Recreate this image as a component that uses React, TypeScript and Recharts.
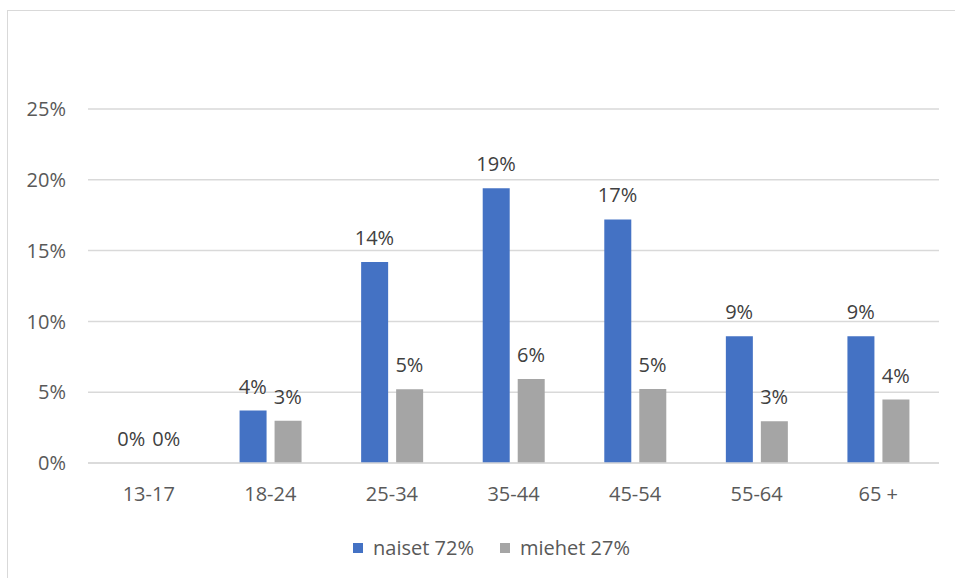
import React from "react";
import { ComposedChart, Bar, Line, XAxis, YAxis, CartesianGrid, Legend, LabelList } from "recharts";

// Age groups and the share of each gender in them (percent)
const ageGroups = ["13-17", "18-24", "25-34", "35-44", "45-54", "55-64", "65 +"];
const naiset = [0, 3.7, 14.2, 19.4, 17.2, 8.95, 8.95];
const miehet = [0, 2.99, 5.2, 5.94, 5.23, 2.95, 4.48];
const yTicks = [0, 5, 10, 15, 20, 25];

const seriesOrder = ["naiset", "miehet"];
const seriesNames: Record<string, string> = { naiset: "naiset 72%", miehet: "miehet 27%" };
const BLUE = "#4472C4";
const GREY = "#A5A5A5";
const FONT = "'Open Sans', 'Liberation Sans', sans-serif";
const FONT_SIZE = 20;
const BAR_SIZE = 27;
const BAR_GAP = 8;
// horizontal distance from a category centre to the centre of each bar in the pair
const HALF_STEP = (BAR_SIZE + BAR_GAP) / 2;

const data = ageGroups.map((g, i) => ({ group: g, naiset: naiset[i], miehet: miehet[i] }));

const pct = (v: number) => `${Math.round(v)}%`;

const LegendContent = (props: any) => {
  const payload = (props.payload || [])
    .filter((p: any) => p.type !== "none")
    .sort((a: any, b: any) => seriesOrder.indexOf(a.dataKey) - seriesOrder.indexOf(b.dataKey));
  return (
    <div style={{ display: "flex", justifyContent: "center", alignItems: "center", fontFamily: FONT, fontSize: FONT_SIZE, color: "#595959" }}>
      {payload.map((p: any, i: number) => (
        <div key={i} style={{ display: "flex", alignItems: "center", marginRight: i === payload.length - 1 ? 0 : 26 }}>
          <span style={{ display: "inline-block", width: 10, height: 10, background: p.color, marginRight: 10 }} />
          <span>{p.value}</span>
        </div>
      ))}
    </div>
  );
};

const labelStyle = { fill: "#404040", fontSize: FONT_SIZE, fontFamily: FONT };

export default function App() {
  return (
    <div style={{ position: "fixed", left: 0, top: 0, width: 955, height: 578, overflow: "hidden", background: "#fff" }}>
      <div
        style={{
          position: "absolute",
          left: 7,
          top: 10,
          width: 1000,
          height: 700,
          border: "1.5px solid #d9d9d9",
          boxSizing: "border-box",
        }}
      />
      <div style={{ position: "absolute", left: 0, top: 0 }}>
        <ComposedChart
          width={955}
          height={578}
          data={data}
          margin={{ top: 109, right: 16, bottom: 75, left: 8 }}
          barGap={BAR_GAP}
          barSize={BAR_SIZE}
        >
          <CartesianGrid vertical={false} stroke="#d9d9d9" strokeWidth={1.5} />
          <XAxis
            dataKey="group"
            axisLine={{ stroke: "#d9d9d9", strokeWidth: 1.5 }}
            tickLine={false}
            height={40}
            tickMargin={18}
            tick={{ fill: "#595959", fontSize: FONT_SIZE, fontFamily: FONT }}
          />
          <YAxis
            width={80}
            domain={[0, 25]}
            ticks={yTicks}
            axisLine={false}
            tickLine={false}
            tickMargin={16}
            tickFormatter={(v: number) => `${v}%`}
            tick={{ fill: "#595959", fontSize: FONT_SIZE, fontFamily: FONT }}
          />
          <Legend
            verticalAlign="middle"
            wrapperStyle={{ top: 534, left: 14, width: 955 }}
            content={<LegendContent />}
          />
          <Bar dataKey="naiset" name={seriesNames.naiset} fill={BLUE} isAnimationActive={false} />
          <Bar dataKey="miehet" name={seriesNames.miehet} fill={GREY} isAnimationActive={false} />
          {/* Value labels ride on invisible lines so zero values get a label too */}
          <Line
            dataKey="naiset"
            stroke="none"
            dot={false}
            activeDot={false}
            legendType="none"
            isAnimationActive={false}
          >
            <LabelList
              dataKey="naiset"
              position="top"
              offset={17}
              dx={-HALF_STEP}
              formatter={(v: any) => pct(Number(v))}
              style={labelStyle}
            />
          </Line>
          <Line
            dataKey="miehet"
            stroke="none"
            dot={false}
            activeDot={false}
            legendType="none"
            isAnimationActive={false}
          >
            <LabelList
              dataKey="miehet"
              position="top"
              offset={17}
              dx={HALF_STEP}
              formatter={(v: any) => pct(Number(v))}
              style={labelStyle}
            />
          </Line>
        </ComposedChart>
      </div>
    </div>
  );
}
